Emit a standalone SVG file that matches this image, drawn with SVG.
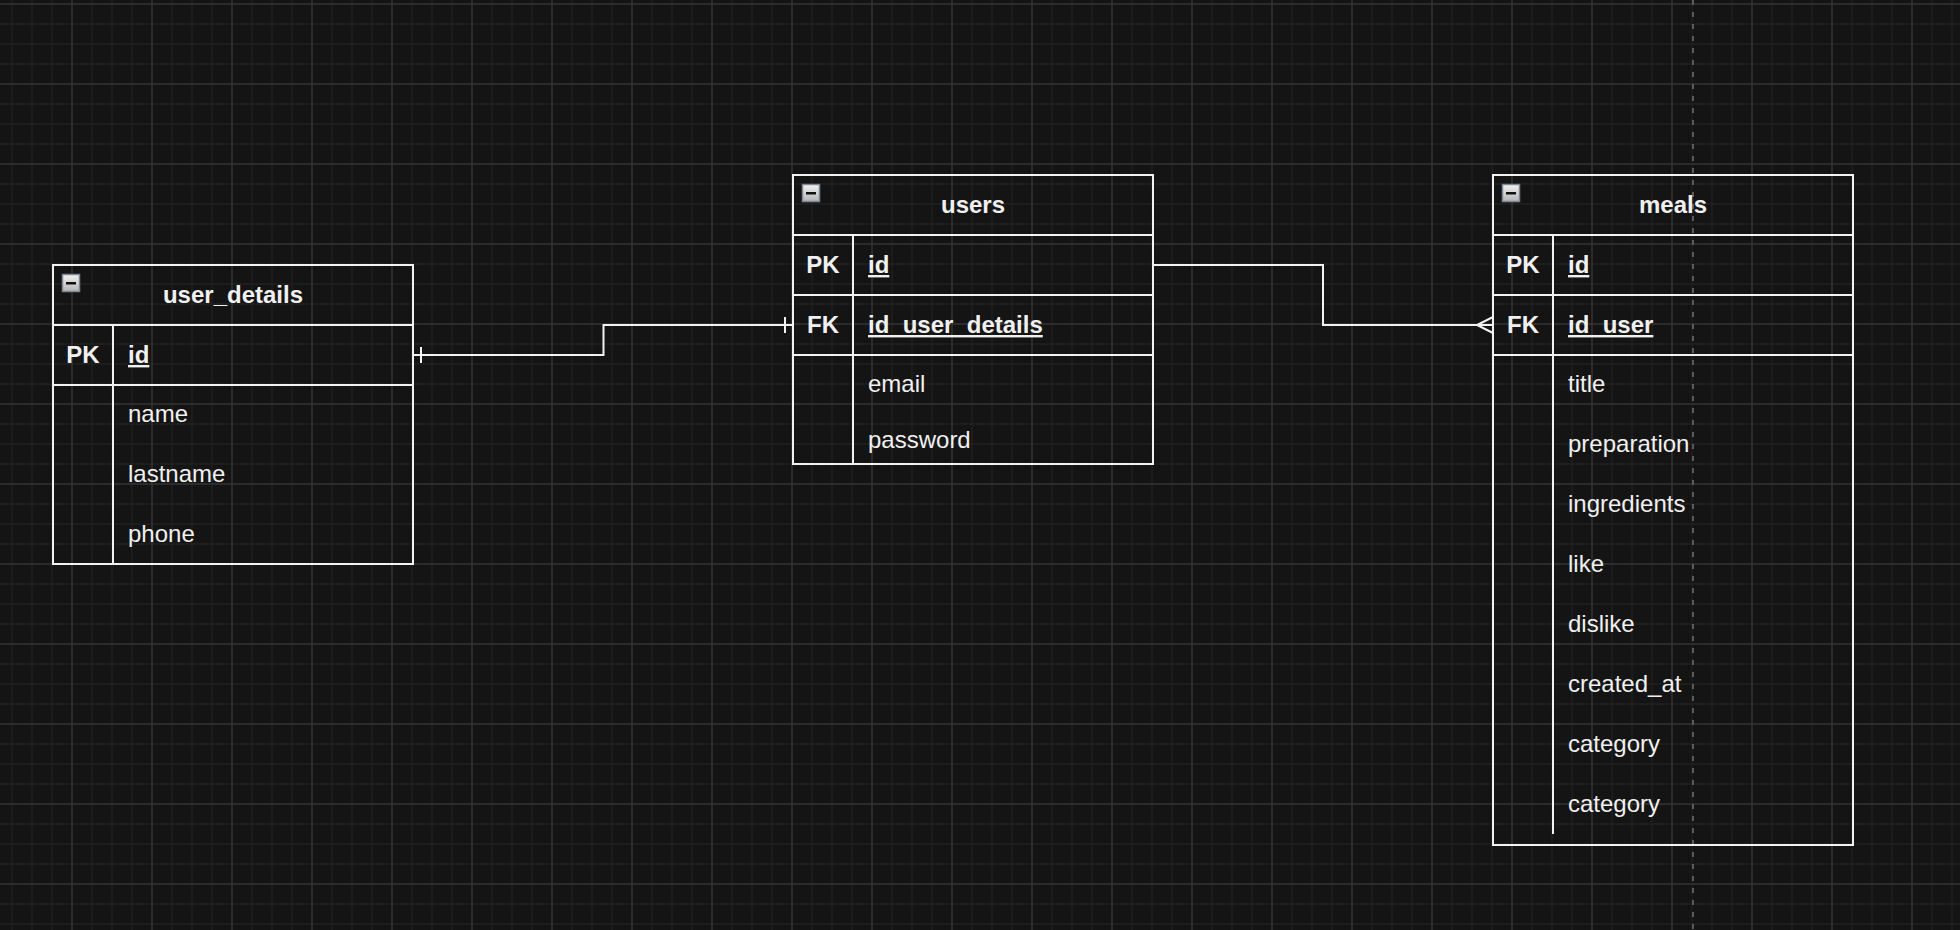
<svg xmlns="http://www.w3.org/2000/svg" width="1960" height="930" viewBox="0 0 1960 930">
<defs>
<pattern id="gMinor" patternUnits="userSpaceOnUse" x="2" y="-6" width="20" height="20">
<path d="M10,0 V20 M0,10 H20" stroke="#202020" stroke-width="1.3" fill="none"/>
</pattern>
<pattern id="gMajor" patternUnits="userSpaceOnUse" x="32" y="-36" width="80" height="80">
<path d="M40,0 V80 M0,40 H80" stroke="#3a3a3a" stroke-width="1" fill="none"/>
</pattern>
<linearGradient id="iconGrad" x1="0" y1="0" x2="0" y2="1">
<stop offset="0" stop-color="#f2f2f2"/>
<stop offset="1" stop-color="#b4b4b4"/>
</linearGradient>
<g id="minus">
<rect x="0" y="0" width="17" height="17" fill="url(#iconGrad)" stroke="#7d8797" stroke-width="1.5"/>
<rect x="3.5" y="7.5" width="10" height="2.5" fill="#111"/>
</g>
</defs>
<style>
.tbl{fill:none;stroke:#f2f2f2;stroke-width:2}
.ln{stroke:#f2f2f2;stroke-width:2;fill:none}
.title{font-family:"Liberation Sans",Arial,sans-serif;font-size:24px;font-weight:bold;fill:#f0f0f0;text-anchor:middle}
.key{font-family:"Liberation Sans",Arial,sans-serif;font-size:24px;font-weight:bold;fill:#f0f0f0;text-anchor:middle}
.kf{font-family:"Liberation Sans",Arial,sans-serif;font-size:24px;font-weight:bold;fill:#f0f0f0;text-decoration:underline}
.f{font-family:"Liberation Sans",Arial,sans-serif;font-size:24px;fill:#f0f0f0}
.conn{stroke:#f2f2f2;stroke-width:2;fill:none}
</style>
<rect width="1960" height="930" fill="#141414"/>
<rect width="1960" height="930" fill="url(#gMinor)"/>
<rect width="1960" height="930" fill="url(#gMajor)"/>
<line x1="1693" y1="0" x2="1693" y2="930" stroke="#5a5a5a" stroke-width="2" stroke-dasharray="5,7"/>

<g id="user_details">
<rect class="tbl" x="53" y="265" width="360" height="299"/>
<line class="ln" x1="53" y1="325" x2="413" y2="325"/>
<line class="ln" x1="53" y1="385" x2="413" y2="385"/>
<line class="ln" x1="113" y1="325" x2="113" y2="564"/>
<use href="#minus" x="62.5" y="274.5"/>
<text class="title" x="233" y="303">user_details</text>
<text class="key" x="83" y="363">PK</text>
<text class="kf" x="128" y="363">id</text>
<text class="f" x="128" y="422">name</text>
<text class="f" x="128" y="482">lastname</text>
<text class="f" x="128" y="542">phone</text>
</g>

<g id="users">
<rect class="tbl" x="793" y="175" width="360" height="289"/>
<line class="ln" x1="793" y1="235" x2="1153" y2="235"/>
<line class="ln" x1="793" y1="295" x2="1153" y2="295"/>
<line class="ln" x1="793" y1="355" x2="1153" y2="355"/>
<line class="ln" x1="853" y1="235" x2="853" y2="464"/>
<use href="#minus" x="802.5" y="184.5"/>
<text class="title" x="973" y="213">users</text>
<text class="key" x="823" y="273">PK</text>
<text class="kf" x="868" y="273">id</text>
<text class="key" x="823" y="333">FK</text>
<text class="kf" x="868" y="333">id_user_details</text>
<text class="f" x="868" y="392">email</text>
<text class="f" x="868" y="448">password</text>
</g>

<g id="meals">
<rect class="tbl" x="1493" y="175" width="360" height="670"/>
<line class="ln" x1="1493" y1="235" x2="1853" y2="235"/>
<line class="ln" x1="1493" y1="295" x2="1853" y2="295"/>
<line class="ln" x1="1493" y1="355" x2="1853" y2="355"/>
<line class="ln" x1="1553" y1="235" x2="1553" y2="834"/>
<use href="#minus" x="1502.5" y="184.5"/>
<text class="title" x="1673" y="213">meals</text>
<text class="key" x="1523" y="273">PK</text>
<text class="kf" x="1568" y="273">id</text>
<text class="key" x="1523" y="333">FK</text>
<text class="kf" x="1568" y="333">id_user</text>
<text class="f" x="1568" y="392">title</text>
<text class="f" x="1568" y="452">preparation</text>
<text class="f" x="1568" y="512">ingredients</text>
<text class="f" x="1568" y="572">like</text>
<text class="f" x="1568" y="632">dislike</text>
<text class="f" x="1568" y="692">created_at</text>
<text class="f" x="1568" y="752">category</text>
<text class="f" x="1568" y="812">category</text>
</g>

<g id="connectors">
<path class="conn" d="M413,355 H603.5 V325 H793"/>
<path class="conn" d="M421,347 V363 M785,317 V333"/>
<path class="conn" d="M1153,265 H1323 V325 H1493"/>
<path class="conn" d="M1493,317 L1477,325 L1493,333"/>
</g>
</svg>
